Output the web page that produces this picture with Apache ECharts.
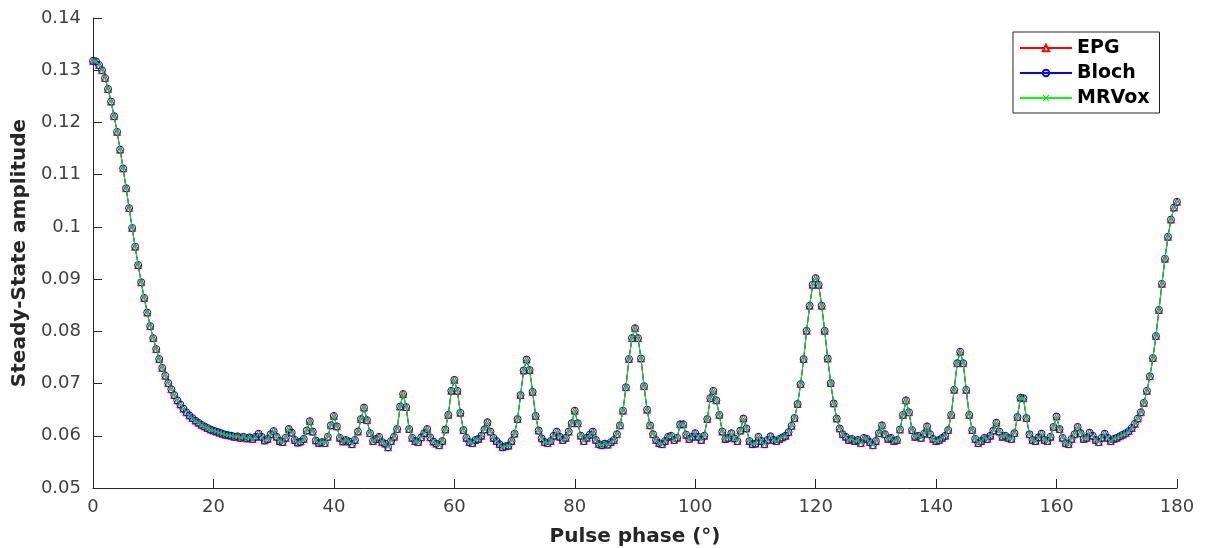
<!DOCTYPE html>
<html>
<head>
<meta charset="utf-8">
<script src="https://cdn.jsdelivr.net/npm/echarts@6/dist/echarts.min.js"></script>
<style>
html,body{margin:0;padding:0;background:#fff;}
#chart{width:1208px;height:548px;}
</style>
</head>
<body>
<div id="chart"></div>
<script>
// Pulse phase sampled every 0.5 degree, 0..180
var phaseStart = 0, phaseStep = 0.5;
var xTicks = [0, 20, 40, 60, 80, 100, 120, 140, 160, 180];
var yTicks = [0.05, 0.06, 0.07, 0.08, 0.09, 0.1, 0.11, 0.12, 0.13, 0.14];
var seriesNames = ['EPG', 'Bloch', 'MRVox'];

// Steady-state amplitude (the three curves overlap)
var epgValues = [
  0.1318, 0.1317, 0.1310, 0.1300, 0.1285, 0.1264, 0.1240, 0.1212, 0.1182, 0.1148,
  0.1112, 0.1074, 0.1036, 0.0998, 0.0962, 0.0927, 0.0894, 0.0864, 0.0836, 0.0810,
  0.0787, 0.0766, 0.0747, 0.0730, 0.0715, 0.0701, 0.0689, 0.0678, 0.0668, 0.0660,
  0.0652, 0.0645, 0.0639, 0.0634, 0.0629, 0.0625, 0.0621, 0.0618, 0.0615, 0.0612,
  0.0610, 0.0608, 0.0606, 0.0604, 0.0602, 0.0601, 0.0600, 0.0598, 0.0599, 0.0596,
  0.0598, 0.0595, 0.0597, 0.0594, 0.0598, 0.0604, 0.0598, 0.0591, 0.0594, 0.0603,
  0.0609, 0.0598, 0.0590, 0.0588, 0.0596, 0.0613, 0.0606, 0.0592, 0.0587, 0.0589,
  0.0594, 0.0610, 0.0628, 0.0608, 0.0591, 0.0586, 0.0588, 0.0586, 0.0598, 0.0620,
  0.0638, 0.0618, 0.0596, 0.0589, 0.0592, 0.0589, 0.0584, 0.0592, 0.0608, 0.0632,
  0.0654, 0.0630, 0.0605, 0.0590, 0.0594, 0.0598, 0.0588, 0.0585, 0.0578, 0.0590,
  0.0598, 0.0613, 0.0656, 0.0680, 0.0655, 0.0613, 0.0596, 0.0590, 0.0588, 0.0597,
  0.0605, 0.0613, 0.0597, 0.0589, 0.0585, 0.0582, 0.0590, 0.0612, 0.0640, 0.0686,
  0.0707, 0.0686, 0.0644, 0.0611, 0.0596, 0.0588, 0.0586, 0.0592, 0.0594, 0.0600,
  0.0612, 0.0626, 0.0608, 0.0596, 0.0590, 0.0584, 0.0578, 0.0580, 0.0581, 0.0590,
  0.0604, 0.0632, 0.0678, 0.0725, 0.0746, 0.0726, 0.0684, 0.0638, 0.0610, 0.0595,
  0.0588, 0.0586, 0.0590, 0.0600, 0.0608, 0.0598, 0.0592, 0.0596, 0.0608, 0.0624,
  0.0648, 0.0624, 0.0600, 0.0590, 0.0596, 0.0602, 0.0608, 0.0592, 0.0584, 0.0582,
  0.0585, 0.0583, 0.0588, 0.0592, 0.0603, 0.0620, 0.0648, 0.0693, 0.0747, 0.0787,
  0.0806, 0.0787, 0.0748, 0.0695, 0.0650, 0.0620, 0.0603, 0.0592, 0.0586, 0.0584,
  0.0590, 0.0598, 0.0600, 0.0592, 0.0596, 0.0622, 0.0622, 0.0602, 0.0594, 0.0598,
  0.0605, 0.0598, 0.0592, 0.0600, 0.0632, 0.0672, 0.0686, 0.0668, 0.0640, 0.0608,
  0.0594, 0.0596, 0.0605, 0.0595, 0.0590, 0.0610, 0.0633, 0.0614, 0.0590, 0.0584,
  0.0585, 0.0598, 0.0590, 0.0584, 0.0592, 0.0599, 0.0592, 0.0590, 0.0594, 0.0597,
  0.0600, 0.0607, 0.0619, 0.0634, 0.0661, 0.0699, 0.0747, 0.0801, 0.0849, 0.0889,
  0.0902, 0.0889, 0.0849, 0.0801, 0.0748, 0.0701, 0.0662, 0.0633, 0.0614, 0.0603,
  0.0598, 0.0592, 0.0594, 0.0590, 0.0592, 0.0586, 0.0596, 0.0594, 0.0588, 0.0582,
  0.0590, 0.0605, 0.0620, 0.0603, 0.0594, 0.0596, 0.0590, 0.0592, 0.0612, 0.0640,
  0.0668, 0.0645, 0.0611, 0.0598, 0.0600, 0.0596, 0.0604, 0.0618, 0.0603, 0.0594,
  0.0590, 0.0592, 0.0596, 0.0600, 0.0611, 0.0640, 0.0688, 0.0739, 0.0761, 0.0739,
  0.0688, 0.0640, 0.0611, 0.0594, 0.0586, 0.0590, 0.0596, 0.0594, 0.0600, 0.0610,
  0.0625, 0.0608, 0.0598, 0.0600, 0.0596, 0.0594, 0.0605, 0.0636, 0.0673, 0.0672,
  0.0634, 0.0603, 0.0592, 0.0590, 0.0597, 0.0604, 0.0592, 0.0590, 0.0598, 0.0617,
  0.0637, 0.0613, 0.0596, 0.0586, 0.0584, 0.0594, 0.0603, 0.0617, 0.0605, 0.0594,
  0.0596, 0.0606, 0.0600, 0.0592, 0.0588, 0.0596, 0.0604, 0.0596, 0.0590, 0.0594,
  0.0596, 0.0599, 0.0602, 0.0605, 0.0609, 0.0615, 0.0623, 0.0633, 0.0645, 0.0663,
  0.0686, 0.0714, 0.0749, 0.0791, 0.0841, 0.0891, 0.0939, 0.0981, 0.1014, 0.1037,
  0.1048
];
// Bloch and MRVox coincide with EPG at the scale of the picture
var blochValues = epgValues;
var mrvoxValues = epgValues;

function toPairs(vals) {
  return vals.map(function (v, i) { return [phaseStart + i * phaseStep, v]; });
}

var axisColor = '#262626';
var labelFont = { fontFamily: 'DejaVu Sans', fontSize: 18, color: '#404040' };
var nameFont = { fontFamily: 'DejaVu Sans', fontSize: 20, fontWeight: 'bold', color: '#262626' };
var crossPath = 'path://M0,1L1,0L5,4L9,0L10,1L6,5L10,9L9,10L5,6L1,10L0,9L4,5Z';

var chart = echarts.init(document.getElementById('chart'), null, { renderer: 'canvas' });
chart.setOption({
  animation: false,
  backgroundColor: '#ffffff',
  grid: { left: 93, right: 31, top: 18, bottom: 60, containLabel: false, outerBoundsMode: 'none' },
  legend: {
    orient: 'vertical',
    left: 1013, top: 32,
    padding: [6, 10, 5, 6],
    itemGap: 5,
    itemWidth: 52, itemHeight: 8,
    backgroundColor: '#ffffff',
    borderColor: '#262626', borderWidth: 1, borderRadius: 0,
    textStyle: { fontFamily: 'DejaVu Sans', fontSize: 19, fontWeight: 'bold', color: '#000000', lineHeight: 20 },
    data: seriesNames
  },
  xAxis: {
    type: 'value',
    min: xTicks[0], max: xTicks[xTicks.length - 1], interval: 20,
    name: 'Pulse phase (°)', nameLocation: 'middle', nameGap: 39,
    nameTextStyle: nameFont,
    axisLine: { show: true, onZero: false, lineStyle: { color: axisColor, width: 1 } },
    axisTick: { show: true, inside: true, length: 9, lineStyle: { color: axisColor } },
    axisLabel: Object.assign({ margin: 10 }, labelFont),
    splitLine: { show: false }
  },
  yAxis: {
    type: 'value',
    min: yTicks[0], max: yTicks[yTicks.length - 1], interval: 0.01,
    name: 'Steady-State amplitude', nameLocation: 'middle', nameGap: 63,
    nameTextStyle: nameFont,
    axisLine: { show: true, onZero: false, lineStyle: { color: axisColor, width: 1 } },
    axisTick: { show: true, inside: true, length: 9, lineStyle: { color: axisColor } },
    axisLabel: Object.assign({ margin: 12, formatter: function (v) { return String(+v.toFixed(2)); } }, labelFont),
    splitLine: { show: false }
  },
  series: [
    {
      name: seriesNames[0], type: 'line', data: toPairs(epgValues),
      symbol: 'triangle', symbolSize: 7, showAllSymbol: true,
      lineStyle: { color: '#ff0000', width: 1 },
      itemStyle: { color: '#ffffff', borderColor: '#ff0000', borderWidth: 1 },
      emphasis: { disabled: true }, z: 2
    },
    {
      name: seriesNames[1], type: 'line', data: toPairs(blochValues),
      symbol: 'circle', symbolSize: 7, showAllSymbol: true,
      lineStyle: { color: '#0000ff', width: 1 },
      itemStyle: { color: 'rgba(255,255,255,0)', borderColor: '#0000ff', borderWidth: 1 },
      emphasis: { disabled: true }, z: 3
    },
    {
      name: seriesNames[2], type: 'line', data: toPairs(mrvoxValues),
      symbol: crossPath, symbolSize: 5, showAllSymbol: true,
      lineStyle: { color: '#00ff00', width: 1 },
      itemStyle: { color: '#00dd00', borderWidth: 0 },
      emphasis: { disabled: true }, z: 4
    }
  ]
});
</script>
</body>
</html>
